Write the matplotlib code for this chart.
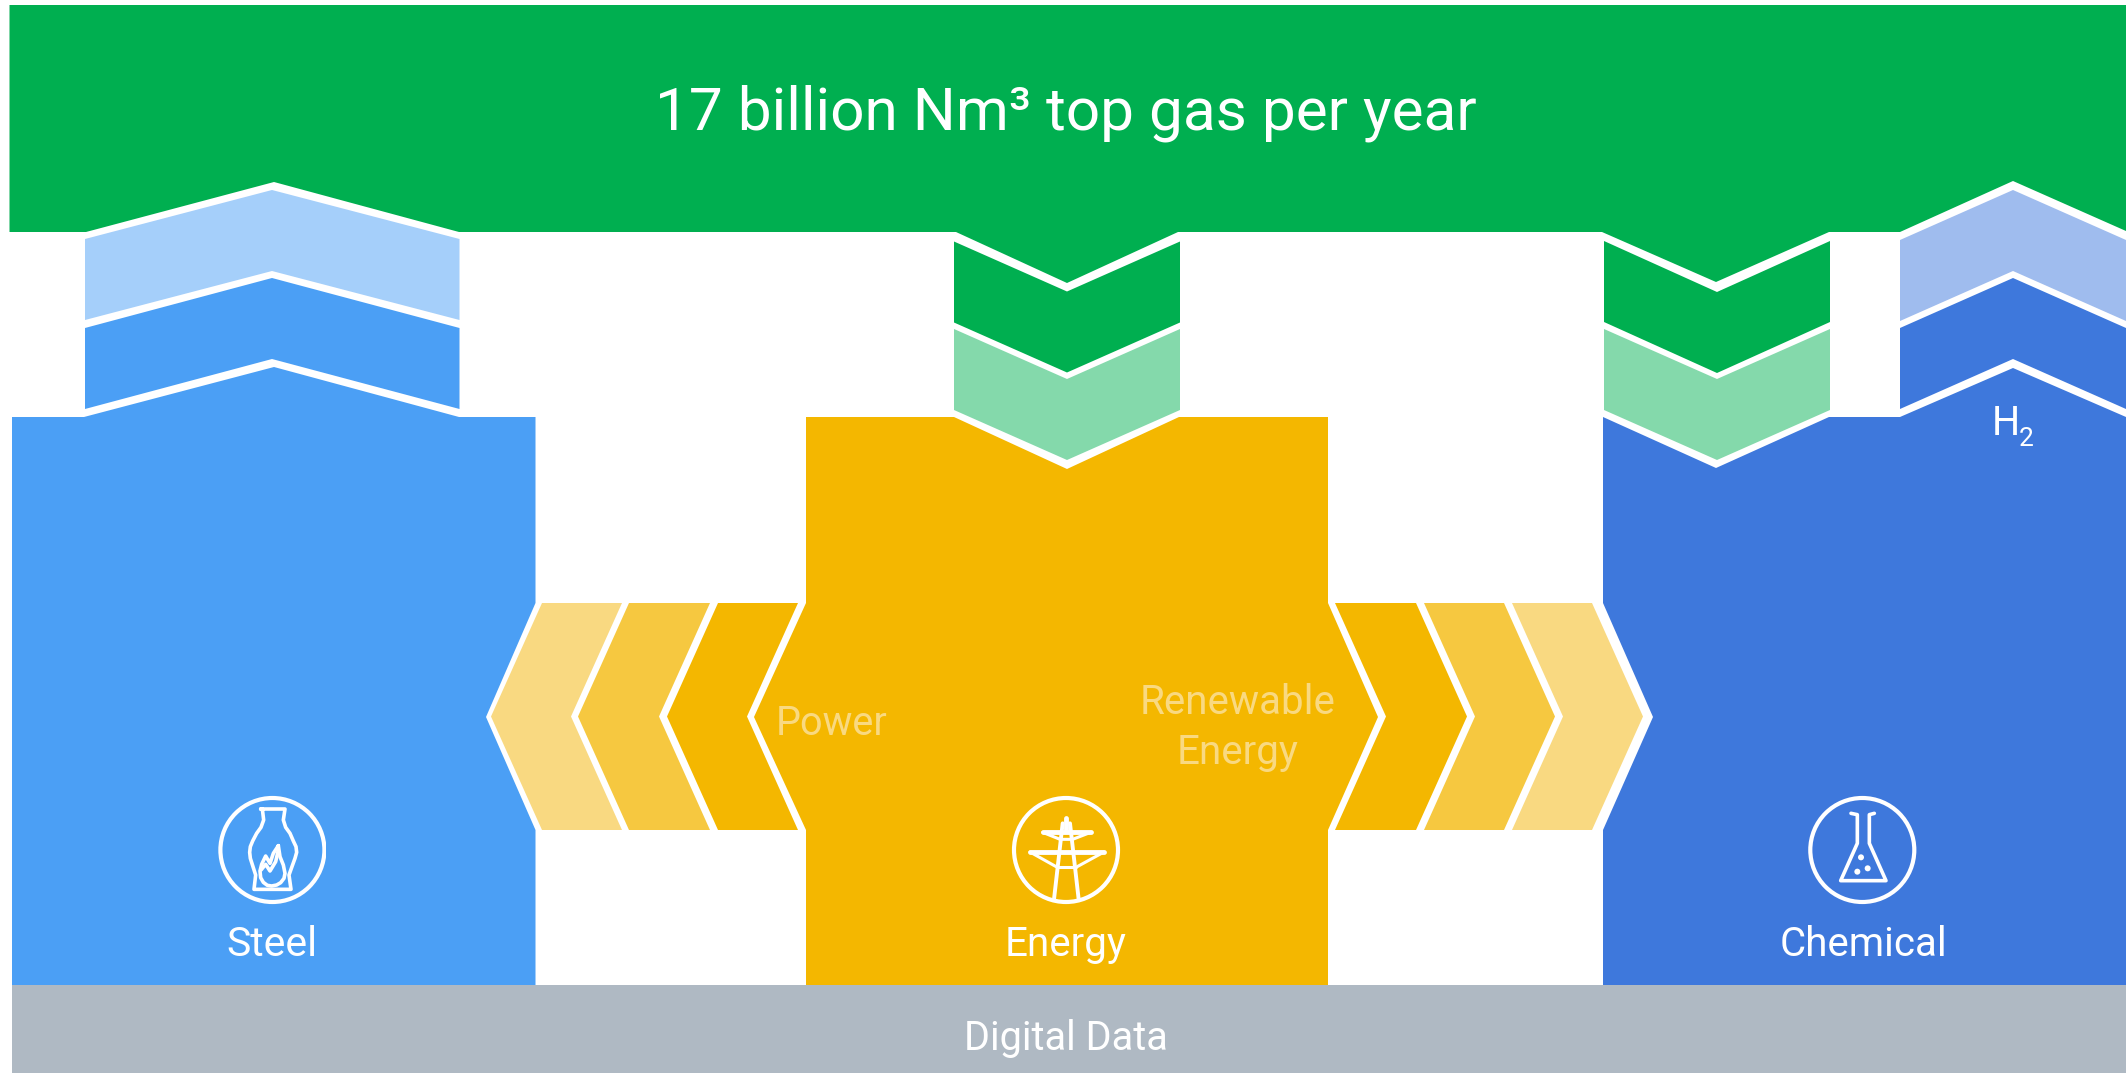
import matplotlib
matplotlib.use("Agg")
import matplotlib.pyplot as plt
from matplotlib.patches import Polygon, Circle, Rectangle

W, H = 2126, 1073
FONT = "Roboto"

GREEN = "#00AF50"
GREEN_LIGHT = "#84D9AB"
STEEL = "#4B9FF5"
STEEL_LIGHT = "#A5CFFA"
CHEM = "#3E78DC"
CHEM_LIGHT = "#9FBCEE"
AMBER = "#F4B700"
AMBER_MID = "#F6C840"
AMBER_LIGHT = "#F9D981"
GREY = "#AFB9C3"
WHITE = "#FFFFFF"

BLOCK_LABELS = ["Steel", "Energy", "Chemical"]
FLOW_LABELS = ["Power", "Renewable", "Energy"]
BAND_TITLE = "17 billion Nm³ top gas per year"
BASE_TITLE = "Digital Data"

fig = plt.figure(figsize=(W / 100, H / 100), dpi=100, facecolor=WHITE)
ax = fig.add_axes([0, 0, 1, 1])
ax.set_xlim(0, W)
ax.set_ylim(H, 0)
ax.axis("off")


def poly(points, color, z=2):
    ax.add_patch(Polygon(points, closed=True, facecolor=color, edgecolor="none", zorder=z))


def vertical_chevron(x0, x1, xm, y_side, y_mid, height, color):
    """Chevron running up or down, with its sides at x0/x1 and the point at xm."""
    poly([(x0, y_side), (xm, y_mid), (x1, y_side),
          (x1, y_side + height), (xm, y_mid + height), (x0, y_side + height)], color)


def side_chevron(x_back, x_front, depth, y0, y1, color):
    """Chevron running left or right; depth is signed towards the point."""
    ym = (y0 + y1) / 2
    poly([(x_back, y0), (x_front, y0), (x_front + depth, ym),
          (x_front, y1), (x_back, y1), (x_back + depth, ym)], color)


# Top gas band with its teeth and notches
poly([(9.5, 5), (W, 5), (W, 231), (2013, 181), (1900, 232), (1829, 232), (1716, 282), (1602, 232),
      (1178, 232), (1067, 283), (956, 232), (459, 232), (274, 182), (86, 232), (9.5, 232)], GREEN)

# Production blocks
poly([(12, 417), (84, 417), (274, 367), (459, 417), (535.5, 417), (535.5, 603), (486, 717),
      (535.5, 830), (535.5, 985), (12, 985)], STEEL)
poly([(806, 417), (954, 417), (1067, 469), (1179, 417), (1328, 417), (1328, 603), (1378, 717),
      (1328, 830), (1328, 985), (806, 985), (806, 830), (754, 717), (806, 603)], AMBER)
poly([(1603, 417), (1716, 468), (1829, 417), (1900, 417), (2013, 368), (W, 417), (W, 985),
      (1603, 985), (1603, 830), (1653, 717), (1603, 603)], CHEM)

# Digital data base
poly([(12, 985), (W, 985), (W, 1073), (12, 1073)], GREY)

# Chevrons rising from the steel block
vertical_chevron(85, 459.5, 272, 239, 190, 81, STEEL_LIGHT)
vertical_chevron(85, 459.5, 272, 328, 278, 81, STEEL)

# Chevrons descending to the energy block
vertical_chevron(954, 1180, 1067, 241.5, 291.5, 81, GREEN)
vertical_chevron(954, 1180, 1067, 329, 379, 81, GREEN_LIGHT)

# Chevrons descending to the chemical block
vertical_chevron(1604, 1830, 1717, 241, 292, 81, GREEN)
vertical_chevron(1604, 1830, 1717, 329, 379, 81, GREEN_LIGHT)

# Chevrons rising from the chemical block, running off the right edge
vertical_chevron(1900, W, 2013, 240, 190, 81, CHEM_LIGHT)
vertical_chevron(1900, W, 2013, 328, 278, 81, CHEM)

# Power flow to steel
side_chevron(622, 542, -51, 603, 830, AMBER_LIGHT)
side_chevron(710, 629, -51, 603, 830, AMBER_MID)
side_chevron(798, 718, -51, 603, 830, AMBER)

# Renewable energy flow to chemical
side_chevron(1335, 1416, 51, 603, 830, AMBER)
side_chevron(1424, 1504, 51, 603, 830, AMBER_MID)
side_chevron(1512, 1592, 51, 603, 830, AMBER_LIGHT)


def icon_line(xs, ys, lw=2.6):
    line, = ax.plot(xs, ys, color=WHITE, lw=lw, solid_capstyle="round",
                    solid_joinstyle="round", zorder=5)
    return line


def zx(v, o):
    return [o + p / 3 for p in v]


# Steel icon: furnace with flame; the ring is cut flat on its right side
clip = Rectangle((200, 780), 125.5, 140, transform=ax.transData)
ring = Circle((272.4, 850), 52, fill=False, edgecolor=WHITE, lw=3.0, zorder=5)
ax.add_patch(ring)
ring.set_clip_path(clip)
fx, fy = 215, 795
icon_line(zx([137, 142, 146, 138, 125, 113, 106, 104, 106, 113, 122, 117, 228, 222, 232, 240, 245, 243, 235, 225,
              212, 205, 210, 137], fx),
          zx([42, 42, 75, 97, 115, 138, 155, 172, 190, 212, 240, 283, 283, 240, 212, 190, 172, 155, 138, 115,
              97, 75, 42, 42], fy))
icon_line(zx([190, 175, 165, 152, 140, 135, 137, 145, 157, 170, 185, 197, 207, 210, 205, 195, 190], fx),
          zx([152, 175, 205, 183, 208, 228, 248, 262, 271, 273, 270, 263, 250, 235, 210, 185, 152], fy))
icon_line(zx([138, 152, 165, 182, 190], fx), zx([225, 208, 228, 200, 165], fy))

# Energy icon: transmission pylon
ax.add_patch(Circle((1066, 850), 52, fill=False, edgecolor=WHITE, lw=3.0, zorder=5))
ex, ey = 980, 780
icon_line(zx([258, 258], ex), zx([115, 150], ey), 3.5)
icon_line(zx([188, 332], ex), zx([157, 157], ey), 3.5)
icon_line(zx([188, 240, 278, 332], ex), zx([157, 178, 178, 157], ey), 2.2)
icon_line(zx([150, 372], ex), zx([216, 216], ey), 3.5)
icon_line(zx([150, 232], ex), zx([216, 262], ey), 2.2)
icon_line(zx([372, 288], ex), zx([216, 262], ey), 2.2)
icon_line(zx([248, 222], ex), zx([130, 358], ey), 2.8)
icon_line(zx([270, 296], ex), zx([130, 358], ey), 2.8)
icon_line(zx([232, 288], ex), zx([262, 262], ey), 2.2)

# Chemical icon: flask with bubbles
ax.add_patch(Circle((1862.3, 850), 52, fill=False, edgecolor=WHITE, lw=3.0, zorder=5))
cx, cy = 1780, 780
icon_line(zx([213, 232, 232, 182, 318, 268, 268, 283], cx), zx([100, 104, 190, 302, 302, 190, 104, 100], cy))
for bx, by in [(243, 232), (232, 275), (263, 265)]:
    ax.add_patch(Circle((cx + bx / 3, cy + by / 3), 3, facecolor=WHITE, edgecolor="none", zorder=5))


def label(x, y, s, size, color=WHITE):
    ax.text(x, y, s, fontsize=size, color=color, family=FONT,
            ha="center", va="baseline", zorder=6)


label(1066, 129, BAND_TITLE, 43.5)
label(272, 956.5, BLOCK_LABELS[0], 29.5)
label(1066, 956.5, BLOCK_LABELS[1], 29)
label(1863, 956.5, BLOCK_LABELS[2], 29)
label(1066, 1050.5, BASE_TITLE, 28.5)
label(832, 735, FLOW_LABELS[0], 28.5, AMBER_LIGHT)
label(1238, 714, FLOW_LABELS[1], 29, AMBER_LIGHT)
label(1238, 764.5, FLOW_LABELS[2], 29, AMBER_LIGHT)
label(2006, 435, "H", 28.5)
label(2026.5, 445.5, "2", 19)

fig.savefig("out.png", dpi=100, facecolor=WHITE)
